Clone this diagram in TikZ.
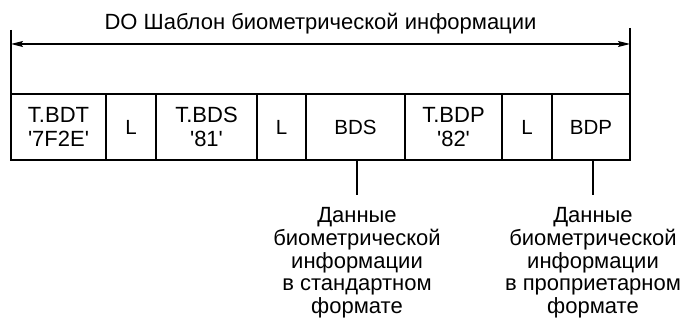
\documentclass[tikz,border=0pt]{standalone}
\usepackage{fontspec}
\setmainfont{Liberation Sans}[Ligatures=TeXOff]
\usetikzlibrary{arrows.meta}
\begin{document}
\begin{tikzpicture}[x=1pt,y=-1pt,
  cell/.style={draw,line width=2.4pt,minimum height=66pt,inner sep=0pt,
    font=\fontsize{22}{24.5}\selectfont,align=center},
  single/.style={font=\fontsize{20.5}{21}\selectfont},
  thinline/.style={line width=1.2pt},
  pointer/.style={line width=2.6pt},
  note/.style={inner xsep=0pt,inner ysep=12.5pt,align=center,
    font=\fontsize{22}{22.7}\selectfont},
  title/.style={inner sep=0pt,font=\fontsize{22}{26}\selectfont}]
\useasboundingbox (0,0) rectangle (681,320);
% cells
\node[cell,minimum width=95pt] (c1) at (58.5,127) {T.BDT\\'7F2E'};
\node[cell,single,minimum width=50pt] (c2) at (131,127) {L};
\node[cell,minimum width=101pt] (c3) at (206.5,127) {T.BDS\\'81'};
\node[cell,single,minimum width=49pt] (c4) at (281.5,127) {L};
\node[cell,single,minimum width=99pt] (c5) at (355.5,127) {BDS};
\node[cell,minimum width=97pt] (c6) at (453.5,127) {T.BDP\\'82'};
\node[cell,single,minimum width=50pt] (c7) at (527,127) {L};
\node[cell,single,minimum width=78pt] (c8) at (591,127) {BDP};
% title and dimension arrow
\node[title,anchor=base] (t) at (320.5,30) {DO Шаблон биометрической информации};
\coordinate (lt) at (11,30);
\coordinate (rt) at (630,28);
\coordinate (lb) at (11,94);
\coordinate (rb) at (630,94);
\coordinate (al) at (11,44);
\coordinate (ar) at (630,44);
\draw[thinline] (lt) -- (lb);
\draw[thinline] (rt) -- (rb);
\draw[thinline,{Stealth[length=12pt,width=6pt,inset=2pt]}-{Stealth[length=12pt,width=6pt,inset=2pt]}] (al) -- (ar);
% notes
\node[note,anchor=north] (d1) at (357,195) {Данные\\биометрической\\информации\\в стандартном\\формате};
\node[note,anchor=north] (d2) at (593,195) {Данные\\биометрической\\информации\\в проприетарном\\формате};
\draw[pointer] (d1.north |- c5.south) -- (d1.north);
\draw[pointer] (d2.north |- c8.south) -- (d2.north);
\end{tikzpicture}
\end{document}
